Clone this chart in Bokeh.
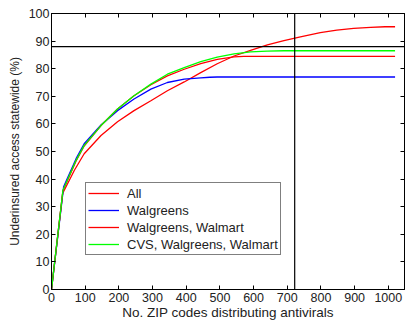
from bokeh.plotting import figure
from bokeh.models import LinearAxis, Span, Legend, LegendItem, FixedTicker, Range1d, CustomLabelingPolicy
from bokeh.embed import file_html
from bokeh.resources import INLINE

# ---- data ----
x_all = [0, 33, 68, 97, 147, 196, 245, 295, 344, 394, 443, 492, 542, 591, 641, 690, 739, 798, 847, 897, 947, 990, 1020]
y_all = [0, 34.8, 43.2, 49.2, 55.8, 60.8, 64.8, 68.4, 72.0, 75.2, 78.6, 81.8, 84.6, 86.6, 88.6, 90.2, 91.5, 93.1, 94.0, 94.6, 95.0, 95.2, 95.2]

x_wag = [0, 36, 73, 97, 147, 196, 245, 295, 344, 394, 443, 470, 492, 1020]
y_wag = [0, 37.2, 47.4, 52.8, 59.6, 64.8, 69.0, 72.6, 75.0, 76.2, 76.7, 76.9, 77.0, 77.0]

x_ww = [0, 34, 73, 97, 147, 196, 245, 295, 344, 394, 443, 492, 542, 571, 1020]
y_ww = [0, 35.8, 46.6, 52.0, 59.4, 65.4, 70.2, 74.2, 77.4, 79.8, 81.8, 83.4, 84.3, 84.5, 84.5]

x_cvs = [0, 34, 73, 97, 147, 196, 245, 295, 344, 394, 443, 492, 542, 591, 640, 690, 1020]
y_cvs = [0, 36.0, 46.8, 52.2, 59.4, 65.4, 70.2, 74.4, 78.0, 80.4, 82.6, 84.2, 85.4, 86.1, 86.4, 86.5, 86.5]

series_labels = ["All", "Walgreens", "Walgreens, Walmart", "CVS, Walgreens, Walmart"]
series_colors = ["#ff0000", "#0000ff", "#ff0000", "#00ff00"]

threshold_y = 88
threshold_x = 722

x_ticks = [0, 100, 200, 300, 400, 500, 600, 700, 800, 900, 1000]
y_ticks = [0, 10, 20, 30, 40, 50, 60, 70, 80, 90, 100]
x_lim = (0, 1048)
y_lim = (0, 100)

FONT = "Liberation Sans"

p = figure(width=405, height=322, output_backend="svg", toolbar_location=None,
           x_range=Range1d(*x_lim), y_range=Range1d(*y_lim))
p.min_border_left = 51
p.min_border_right = 1
p.min_border_top = 13
p.min_border_bottom = 32
p.grid.visible = False
p.outline_line_color = "black"
p.outline_line_width = 1
p.background_fill_color = "white"
p.border_fill_color = "white"

hide_all = CustomLabelingPolicy(code="""
const arr = [...indices]
for (const i of arr) { indices.unset(i) }
return indices
""")

p.add_layout(LinearAxis(), "above")
p.add_layout(LinearAxis(), "right")

for ax in p.xaxis:
    ax.ticker = FixedTicker(ticks=x_ticks)
for ax in p.yaxis:
    ax.ticker = FixedTicker(ticks=y_ticks)

for ax in p.axis:
    ax.major_tick_in = 4
    ax.major_tick_out = 0
    ax.minor_tick_line_color = None
    ax.axis_line_color = "black"
    ax.major_tick_line_color = "black"
    ax.major_label_text_font = FONT
    ax.major_label_text_font_size = "12.5px"
    ax.major_label_text_color = "#222222"
    ax.axis_label_text_font = FONT
    ax.axis_label_text_font_style = "normal"
    ax.axis_label_text_color = "#222222"

for ax in (p.above[0], p.right[0]):
    ax.major_label_text_font_size = "0px"
    ax.major_label_standoff = 0
    ax.major_label_policy = hide_all

xb = p.below[0]
xb.axis_label = "No. ZIP codes distributing antivirals"
xb.axis_label_text_font_size = "13.5px"
xb.major_label_standoff = 3
xb.axis_label_standoff = 0

yl = p.left[0]
yl.axis_label = "Underinsured access statewide (%)"
yl.axis_label_text_font_size = "12px"
yl.major_label_standoff = 2
yl.axis_label_standoff = 4

xs = [x_all, x_wag, x_ww, x_cvs]
ys = [y_all, y_wag, y_ww, y_cvs]
renderers = []
for xx, yy, c in zip(xs, ys, series_colors):
    r = p.line(xx, yy, line_color=c, line_width=1.3)
    renderers.append(r)

p.add_layout(Span(location=threshold_y, dimension="width", line_color="black", line_width=1.2))
p.add_layout(Span(location=threshold_x, dimension="height", line_color="black", line_width=1.2))

legend = Legend(items=[LegendItem(label=l, renderers=[r]) for l, r in zip(series_labels, renderers)],
                location=(34, 34))
legend.border_line_color = "black"
legend.border_line_width = 1
legend.background_fill_color = "white"
legend.background_fill_alpha = 1
legend.label_text_font = FONT
legend.label_text_font_size = "13px"
legend.label_text_color = "#222222"
legend.glyph_width = 31
legend.glyph_height = 16
legend.label_height = 16
legend.label_standoff = 8
legend.padding = 2
legend.spacing = 1
legend.margin = 0
p.add_layout(legend)

open("out.html", "w").write(file_html(p, INLINE))
